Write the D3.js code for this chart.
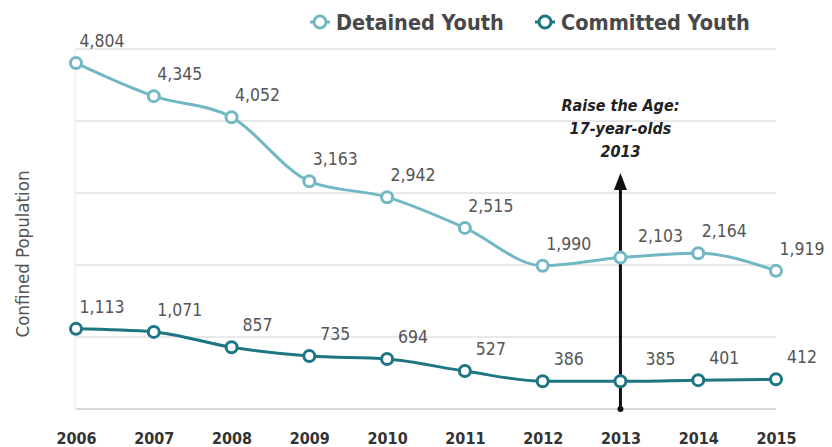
<!DOCTYPE html>
<html><head><meta charset="utf-8">
<script src="https://cdn.jsdelivr.net/npm/d3@7"></script>
<style>
html,body{margin:0;padding:0;background:#fff;}
svg{display:block;font-family:"DejaVu Sans Condensed","DejaVu Sans",sans-serif;}
</style></head>
<body><svg id="chart" width="832" height="447"></svg>
<script>
const years = [2006,2007,2008,2009,2010,2011,2012,2013,2014,2015];
const detained = [4804,4345,4052,3163,2942,2515,1990,2103,2164,1919];
const committed = [1113,1071,857,735,694,527,386,385,401,412];
const yTicks = [0,1000,2000,3000,4000,5000];
const seriesNames = ["Detained Youth","Committed Youth"];
const colors = ["#72b8c4","#1e7683"];
const annotationYear = 2013;
const annotationLines = ["Raise the Age:","17-year-olds","2013"];

const svg = d3.select("#chart");
const x = d3.scalePoint().domain(years).range([76,776]);
const y = d3.scaleLinear().domain([0,5000]).range([409,49]);

// gridlines
svg.append("g").selectAll("line").data(yTicks).join("line")
  .attr("x1",76).attr("x2",776)
  .attr("y1",d=>y(d)).attr("y2",d=>y(d))
  .attr("stroke",d=>d===0?"#b5b5b5":"#d2d2d2").attr("stroke-width",1);
svg.append("line").attr("x1",75).attr("x2",75).attr("y1",y(5000)).attr("y2",y(0))
  .attr("stroke","#e6e6e6").attr("stroke-width",1);

// x axis labels
const xAxis = d3.axisBottom(x).tickSize(0).tickPadding(0);
const gx = svg.append("g").attr("transform","translate(0,430)").call(xAxis);
gx.select(".domain").remove();
gx.selectAll("text").attr("dy",null).attr("y",14)
  .attr("font-family","DejaVu Sans Condensed, DejaVu Sans, sans-serif")
  .attr("font-size",16).attr("font-weight","bold").attr("fill","#333");

// y title
svg.append("text").attr("transform","translate(29,254) rotate(-90)")
  .attr("text-anchor","middle").attr("font-size",18.5).attr("fill","#555")
  .text("Confined Population");

// annotation arrow
const ax = x(annotationYear);
svg.append("line").attr("x1",ax).attr("x2",ax).attr("y1",y(0)).attr("y2",186)
  .attr("stroke","#111").attr("stroke-width",3);
svg.append("path").attr("d",`M${ax},173 L${ax-6.5},190 L${ax+6.5},190 Z`).attr("fill","#111");
svg.append("circle").attr("cx",ax).attr("cy",y(0)).attr("r",3).attr("fill","#111");
svg.append("g").selectAll("text").data(annotationLines).join("text")
  .attr("x",ax).attr("y",(d,i)=>111+i*23).attr("text-anchor","middle")
  .attr("font-size",16).attr("font-weight","bold").attr("font-style","italic").attr("fill","#222")
  .text(d=>d);

// lines
const series = [detained, committed];
const line = d3.line().x((d,i)=>x(years[i])).y(d=>y(d)).curve(d3.curveMonotoneX);
const fmt = d3.format(",");
series.forEach((vals,si)=>{
  svg.append("path").datum(vals).attr("d",line).attr("fill","none")
    .attr("stroke",colors[si]).attr("stroke-width",3);
  svg.append("g").selectAll("circle").data(vals).join("circle")
    .attr("cx",(d,i)=>x(years[i])).attr("cy",d=>y(d)).attr("r",5.5)
    .attr("fill","#fff").attr("stroke",colors[si]).attr("stroke-width",3);
  svg.append("g").selectAll("text").data(vals).join("text")
    .attr("x",(d,i)=>x(years[i]) + (years[i]===annotationYear?40:26))
    .attr("y",d=>y(d)-16)
    .attr("text-anchor","middle").attr("font-size",17.5).attr("fill","#555")
    .text(d=>fmt(d));
});

// legend
const lg = svg.append("g");
const legX = [320,545];
seriesNames.forEach((n,i)=>{
  lg.append("line").attr("x1",legX[i]-10).attr("x2",legX[i]+10).attr("y1",22).attr("y2",22)
    .attr("stroke",colors[i]).attr("stroke-width",3);
  lg.append("circle").attr("cx",legX[i]).attr("cy",22).attr("r",6)
    .attr("fill","#fff").attr("stroke",colors[i]).attr("stroke-width",3);
  lg.append("text").attr("x",legX[i]+16).attr("y",30).attr("font-size",21.5)
    .attr("font-weight","bold").attr("fill","#484848").text(n);
});
</script></body></html>
